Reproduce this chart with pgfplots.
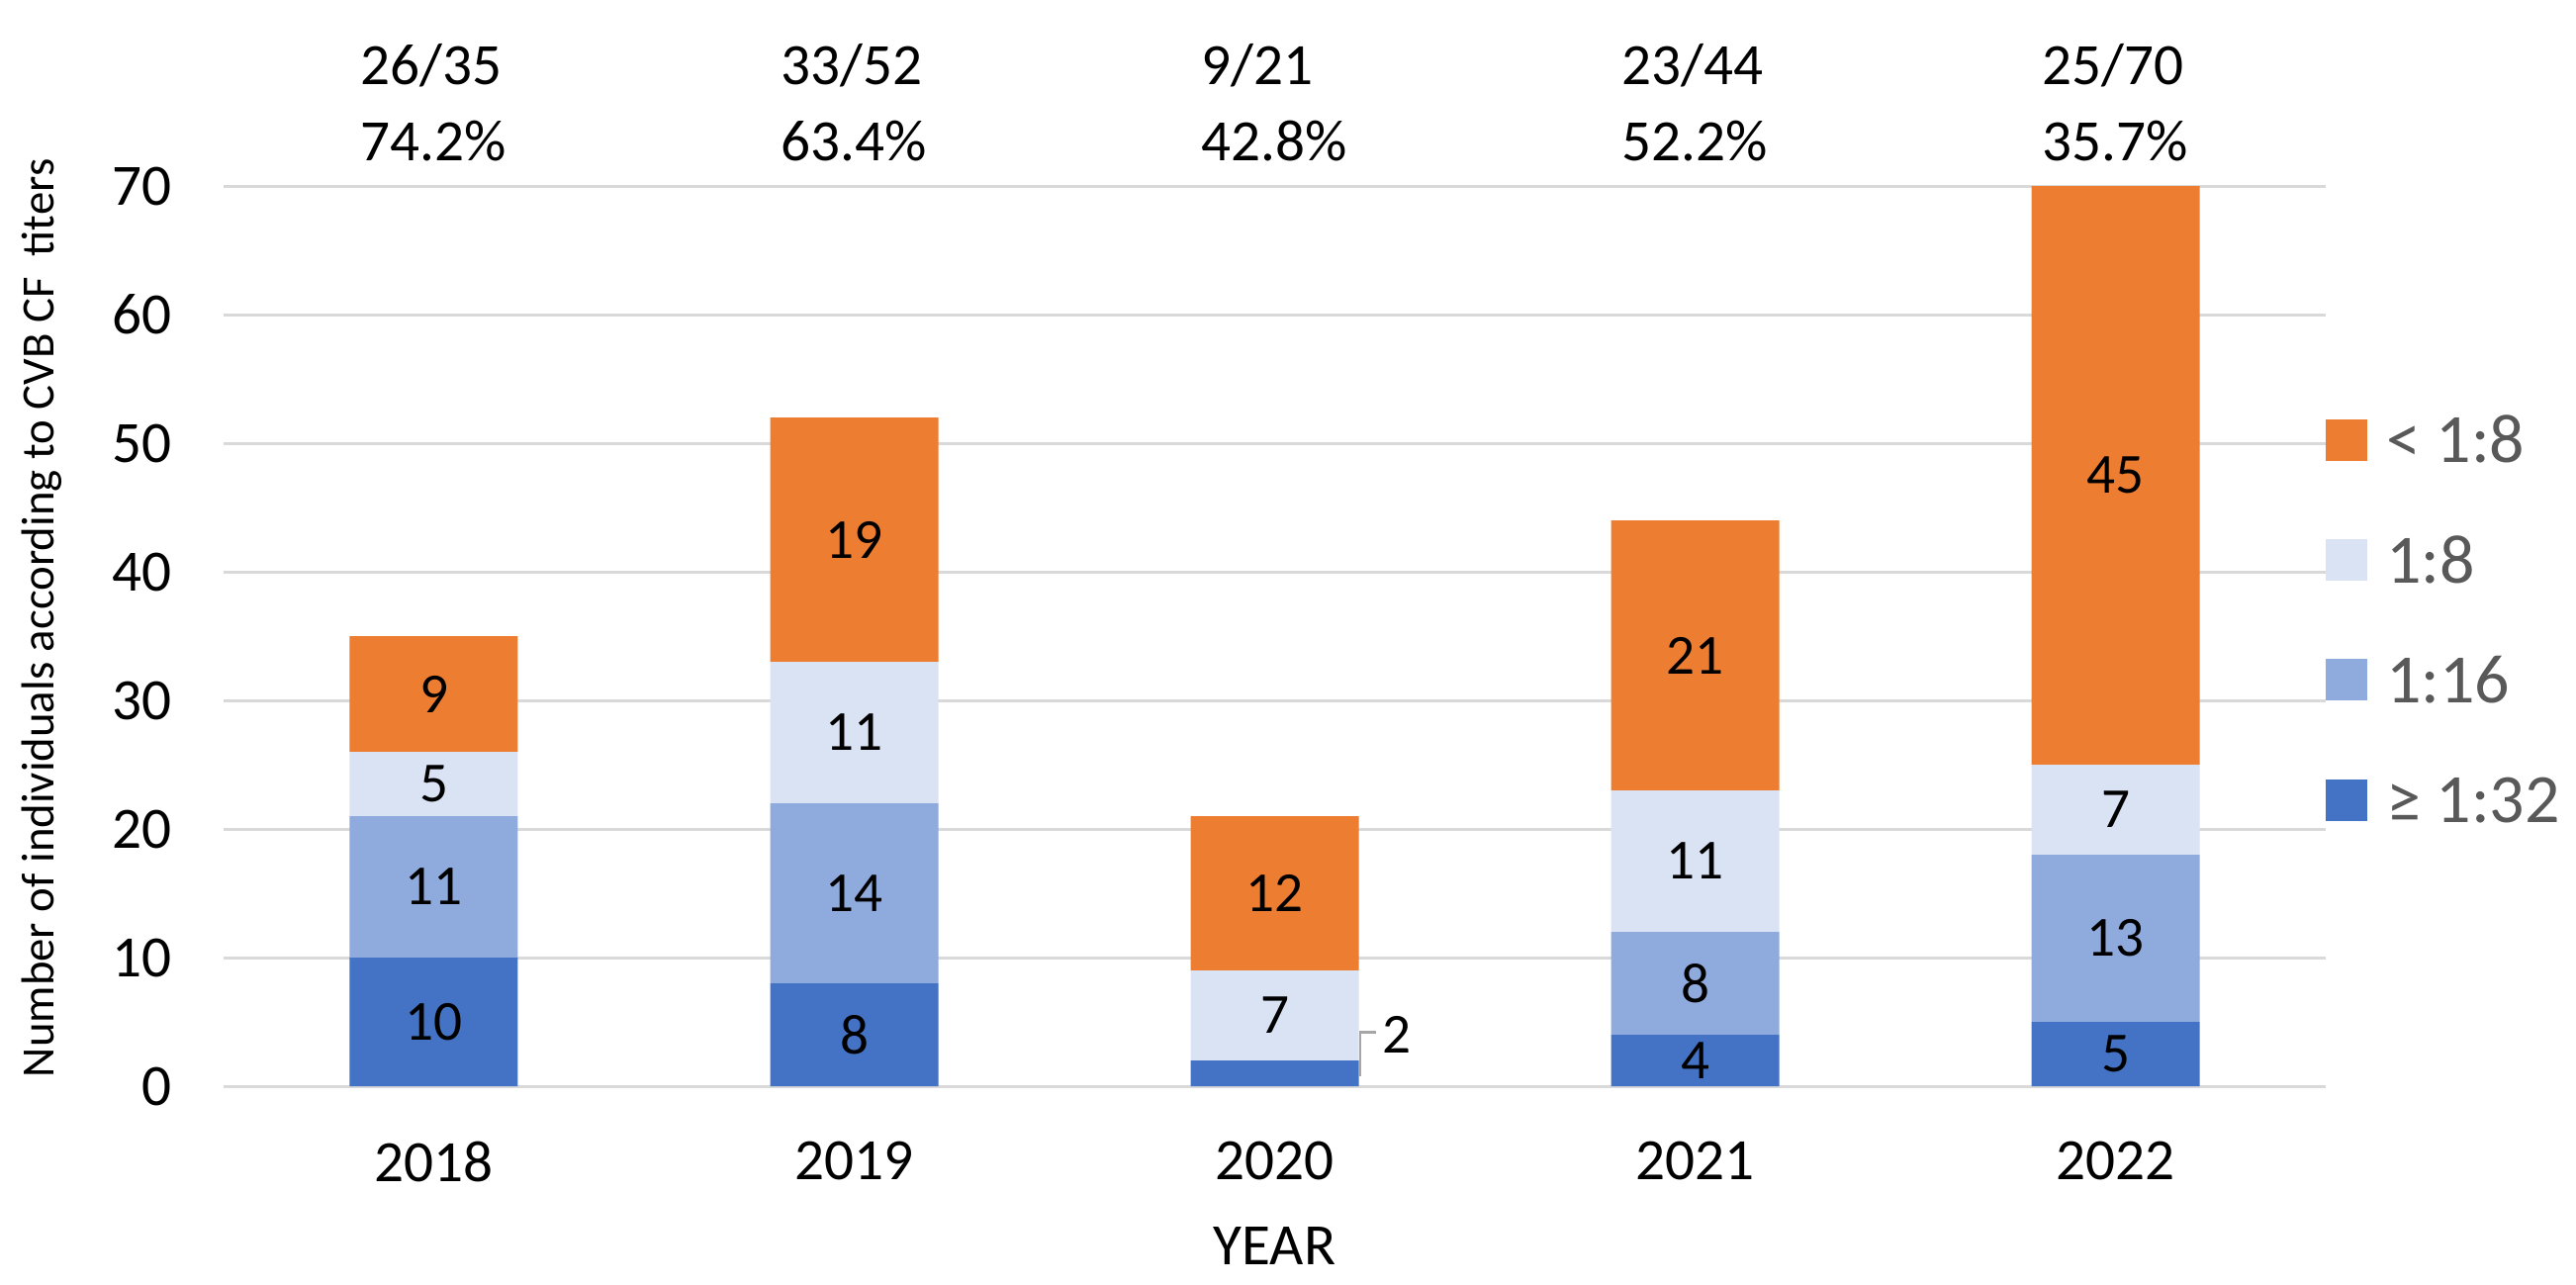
\documentclass[border=0pt]{standalone}
\usepackage{pgfplots}
\pgfplotsset{compat=1.18}
\usepackage{fontspec}
\setmainfont{Carlito}
\definecolor{cOr}{HTML}{ED7D31}
\definecolor{cLt}{HTML}{DAE3F3}
\definecolor{cMd}{HTML}{8FAADC}
\definecolor{cDk}{HTML}{4472C4}
\definecolor{cGrid}{HTML}{D9D9D9}
\definecolor{cLeg}{HTML}{595959}
\begin{document}
\begin{tikzpicture}
\useasboundingbox (-56.5pt,-50pt) rectangle (594.5pt,274.5pt);
\begin{axis}[
  scale only axis, width=531.25pt, height=227.5pt,
  xmin=-0.5, xmax=4.5, ymin=0, ymax=70,
  ybar stacked, bar width=42.5pt,
  xtick={0,1,2,3,4}, xticklabels={2018,2019,2020,2021,2022},
  ytick={0,10,...,70},
  ymajorgrids, grid style={cGrid, line width=0.75pt},
  axis line style={draw=none}, major tick length=0pt, tick style={draw=none},
  tick label style={font=\fontsize{14.8}{17.8}\selectfont, text=black},
  /pgf/number format/assume math mode=true,
  xticklabel style={yshift=-10.4pt},
  yticklabel style={xshift=-9.6pt},
  xlabel={YEAR},
  ylabel={Number of individuals according to CVB CF\ \ titers},
  every axis x label/.style={at={(axis description cs:0.5,0)}, anchor=center, yshift=-40.5pt, font=\fontsize{14.8}{17.8}\selectfont},
  every axis y label/.style={at={(axis description cs:-0.0866,0.52)}, rotate=90, anchor=center, font=\fontsize{11.7}{14}\selectfont},
  legend style={at={(axis description cs:1,0.519)}, anchor=west, draw=none, fill=none,
    inner sep=0pt, outer sep=0pt, row sep=18.3pt, column sep=4.75pt,
    font=\fontsize{17.5}{21}\selectfont, text=cLeg,
    nodes={inner sep=0pt, text height=12pt, text depth=0pt}},
  legend cell align=left,
  reverse legend,
  legend image code/.code={\fill[#1] (0pt,-5.5pt) rectangle (10.5pt,5pt);},
]
\addplot[fill=cDk, draw=none] coordinates {(0,10) (1,8) (2,2) (3,4) (4,5)};
\addplot[fill=cMd, draw=none] coordinates {(0,11) (1,14) (2,0) (3,8) (4,13)};
\addplot[fill=cLt, draw=none] coordinates {(0,5) (1,11) (2,7) (3,11) (4,7)};
\addplot[fill=cOr, draw=none] coordinates {(0,9) (1,19) (2,12) (3,21) (4,45)};
\legend{≥ 1:32, 1:16, 1:8, < 1:8}
\end{axis}
\begin{axis}[
  scale only axis, width=531.25pt, height=227.5pt,
  xmin=-0.5, xmax=4.5, ymin=0, ymax=70,
  hide axis, clip=false]
% segment value labels
\addplot[draw=none, mark=none, nodes near coords, point meta=explicit symbolic,
  nodes near coords align={center},
  every node near coord/.append style={font=\fontsize{14.3}{17}\selectfont, text=black}]
  coordinates {
  (0,5)[10] (0,15.5)[11] (0,23.5)[5] (0,30.5)[9]
  (1,4)[8] (1,15)[14] (1,27.5)[11] (1,42.5)[19]
  (2,5.5)[7] (2,15)[12] (2.29,4.0)[2]
  (3,2)[4] (3,8)[8] (3,17.5)[11] (3,33.5)[21]
  (4,2.5)[5] (4,11.5)[13] (4,21.5)[7] (4,47.5)[45]
  };
% leader line for the 2020 label
\addplot[color=black!35, line width=0.6pt, mark=none] coordinates {(2.204,0.8) (2.204,4.2) (2.24,4.2)};
% proportion annotations above the bars
\addplot[draw=none, mark=none, nodes near coords, point meta=explicit symbolic,
  nodes near coords align={center},
  every node near coord/.append style={align=left, font=\fontsize{14.8}{19.25}\selectfont, text=black}]
  coordinates {
  (0,76.5)[{26/35\\74.2\%}]
  (1,76.5)[{33/52\\63.4\%}]
  (2,76.5)[{9/21\\42.8\%}]
  (3,76.5)[{23/44\\52.2\%}]
  (4,76.5)[{25/70\\35.7\%}]
  };
\end{axis}
\end{tikzpicture}
\end{document}
